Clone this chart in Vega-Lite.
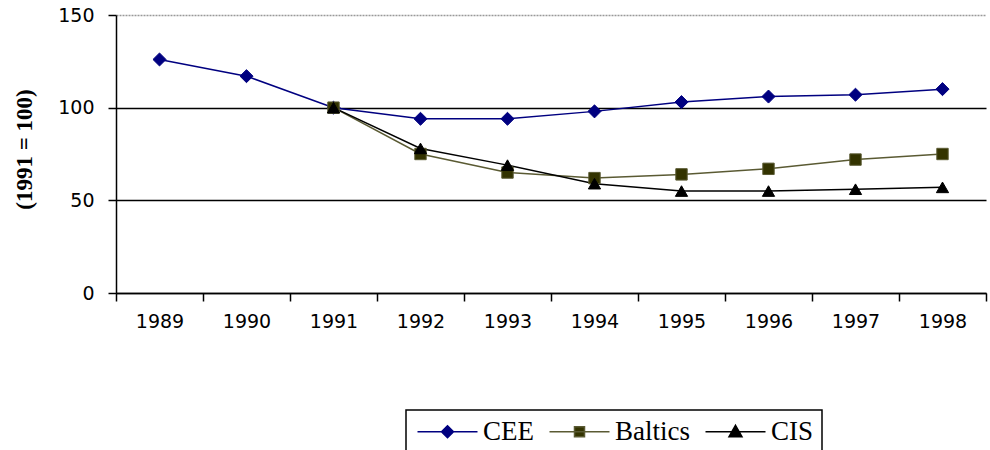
{
  "$schema": "https://vega.github.io/schema/vega-lite/v6.json",
  "width": 870,
  "height": 278,
  "autosize": "none",
  "padding": {"left": 116, "top": 15, "right": 4, "bottom": 157},
  "background": "white",
  "data": {
    "values": [
      {"year": "1989", "series": "CEE", "value": 126},
      {"year": "1990", "series": "CEE", "value": 117},
      {"year": "1991", "series": "CEE", "value": 100},
      {"year": "1992", "series": "CEE", "value": 94},
      {"year": "1993", "series": "CEE", "value": 94},
      {"year": "1994", "series": "CEE", "value": 98},
      {"year": "1995", "series": "CEE", "value": 103},
      {"year": "1996", "series": "CEE", "value": 106},
      {"year": "1997", "series": "CEE", "value": 107},
      {"year": "1998", "series": "CEE", "value": 110},
      {"year": "1991", "series": "Baltics", "value": 100},
      {"year": "1992", "series": "Baltics", "value": 75},
      {"year": "1993", "series": "Baltics", "value": 65},
      {"year": "1994", "series": "Baltics", "value": 62},
      {"year": "1995", "series": "Baltics", "value": 64},
      {"year": "1996", "series": "Baltics", "value": 67},
      {"year": "1997", "series": "Baltics", "value": 72},
      {"year": "1998", "series": "Baltics", "value": 75},
      {"year": "1991", "series": "CIS", "value": 100},
      {"year": "1992", "series": "CIS", "value": 78},
      {"year": "1993", "series": "CIS", "value": 69},
      {"year": "1994", "series": "CIS", "value": 59},
      {"year": "1995", "series": "CIS", "value": 55},
      {"year": "1996", "series": "CIS", "value": 55},
      {"year": "1997", "series": "CIS", "value": 56},
      {"year": "1998", "series": "CIS", "value": 57}
    ]
  },
  "config": {
    "view": {"stroke": null},
    "axis": {"labelFont": "DejaVu Sans", "labelFontSize": 19, "labelColor": "#000", "domainColor": "#000", "domainWidth": 1.5, "tickColor": "#000", "tickWidth": 1.5, "tickSize": 8}
  },
  "encoding": {
    "x": {
      "field": "year", "type": "ordinal",
      "scale": {"type": "band", "paddingInner": 0, "paddingOuter": 0},
      "axis": {"title": null, "labelAngle": 0, "tickBand": "extent", "labelPadding": 11, "grid": false}
    },
    "y": {
      "field": "value", "type": "quantitative",
      "scale": {"domain": [0, 150], "nice": false},
      "axis": {
        "values": [0, 50, 100, 150],
        "title": "(1991 = 100)",
        "titleFont": "Liberation Serif", "titleFontSize": 23, "titleFontWeight": "bold", "titleColor": "#000",
        "titleAngle": 270, "titleBaseline": "middle", "titleAlign": "center", "titleX": -92, "titleY": 134,
        "labelPadding": 14,
        "grid": true,
        "gridColor": {"condition": {"test": "datum.value == 150", "value": "#999999"}, "value": "#000000"},
        "gridDash": {"condition": {"test": "datum.value == 150", "value": [2, 1]}, "value": []},
        "gridWidth": 1.5
      }
    }
  },
  "layer": [
    {
      "mark": {"type": "line", "strokeWidth": 1.5},
      "encoding": {
        "color": {
          "field": "series", "type": "nominal",
          "scale": {"domain": ["CEE", "Baltics", "CIS"], "range": ["#000080", "#5a5a33", "#000000"]},
          "legend": {
            "title": null, "orient": "none", "direction": "horizontal",
            "legendX": 290, "legendY": 395,
            "strokeColor": "#000", "padding": 8, "fillColor": "white",
            "labelFont": "Liberation Serif", "labelFontSize": 27, "labelColor": "#000",
            "labelOffset": 42, "columnPadding": 12, "symbolSize": 400, "symbolStrokeWidth": 1.5,
            "encode": {
              "legend": {"update": {"strokeWidth": {"value": 1.5}}},
              "symbols": {"update": {
                "shape": {"signal": "datum.value === 'CEE' ? 'M-1,0H5M2,-0.6L2.6,0L2,0.6L1.4,0Z' : datum.value === 'Baltics' ? 'M-1,0H5M1.5,-0.5H2.5V0.5H1.5Z' : 'M-1,0H5M2,-0.65L2.65,0.5H1.35Z'"},
                "fill": {"signal": "datum.value === 'CEE' ? '#000080' : datum.value === 'Baltics' ? '#333300' : '#000000'"},
                "strokeWidth": {"value": 1.5}
              }}
            }
          }
        }
      }
    },
    {
      "transform": [{"filter": "datum.series === 'CEE'"}],
      "mark": {"type": "point", "shape": "diamond", "filled": true, "opacity": 1, "fill": "#000080", "stroke": "#000080", "strokeWidth": 1, "size": 170}
    },
    {
      "transform": [{"filter": "datum.series === 'Baltics'"}],
      "mark": {"type": "point", "shape": "square", "filled": true, "opacity": 1, "fill": "#333300", "stroke": "#5a5a33", "strokeWidth": 1, "size": 130}
    },
    {
      "transform": [{"filter": "datum.series === 'CIS'"}],
      "mark": {"type": "point", "shape": "triangle-up", "filled": true, "opacity": 1, "fill": "#000000", "stroke": "#000000", "strokeWidth": 1, "size": 150}
    }
  ]
}
